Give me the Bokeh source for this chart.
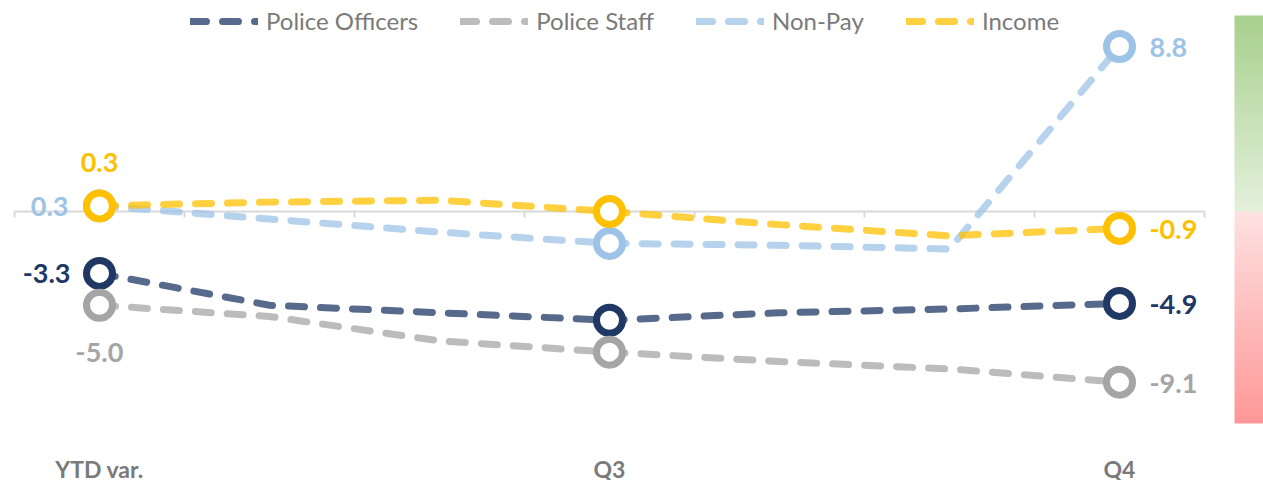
import numpy as np
from bokeh.plotting import figure
from bokeh.models import Range1d, FixedTicker, Legend, LegendItem
from bokeh.core.properties import value
from bokeh.embed import file_html
from bokeh.resources import INLINE

# ---------------- data ----------------
categories = ["YTD var.", "", "", "Q3", "", "", "Q4"]
police_officers = [-3.3, -5.0, -5.4, -5.8, -5.4, -5.2, -4.9]
police_staff = [-5.0, -5.6, -6.9, -7.5, -8.0, -8.4, -9.1]
non_pay = [0.3, -0.4, -1.1, -1.7, -1.8, -2.0, 8.8]
income = [0.3, 0.5, 0.6, 0.0, -0.7, -1.3, -0.9]
series_names = ["Police Officers", "Police Staff", "Non-Pay", "Income"]
marker_idx = [0, 3, 6]
labelled_idx = [0, 6]

# ---------------- styles ----------------
FONT = "Lato"
series_colors = ["#1f3864", "#a5a5a5", "#9dc3e6", "#ffc000"]
label_colors = ["#1f3864", "#a5a5a5", "#9dc3e6", "#ffc000"]
first_label_pos = [(-29, 0, "right"), (0, 47, "center"), (-31, 1, "right"), (0, -43, "center")]
last_label_pos = (30, 1, "left")

FRAME_W, FRAME_H = 1263, 430
PX_X = 170.0
PX_Y = 18.75
LEFT_PAD = 14
ZERO_PX = 211

xs = list(range(len(categories)))
x_start = -0.5 - LEFT_PAD / PX_X
x_end = x_start + FRAME_W / PX_X
y_end = ZERO_PX / PX_Y
y_start = y_end - FRAME_H / PX_Y

p = figure(frame_width=FRAME_W, frame_height=FRAME_H, output_backend="svg",
           toolbar_location=None,
           x_range=Range1d(x_start, x_end), y_range=Range1d(y_start, y_end),
           y_axis_location=None, min_border_left=0, min_border_right=0,
           min_border_top=0, min_border_bottom=0)
p.outline_line_color = None
p.grid.visible = False

# ---------- gradient strip on the right ----------
strip_top = y_end - 15 / PX_Y
strip_bot = y_end - 423 / PX_Y
n = 400
yy = np.linspace(strip_bot, strip_top, n)
green_hi = np.array([169, 209, 142]); green_lo = np.array([228, 240, 220])
red_lo = np.array([254, 226, 226]); red_hi = np.array([255, 152, 152])
img = np.zeros((n, 1, 4), dtype=np.uint8)
for i, yv in enumerate(yy):
    if yv >= 0:
        c = green_lo + (green_hi - green_lo) * (yv / strip_top)
    else:
        c = red_lo + (red_hi - red_lo) * (yv / strip_bot)
    img[i, 0, :3] = c.astype(np.uint8)
    img[i, 0, 3] = 255
strip_x = x_start + 1234 / PX_X
p.image_rgba(image=[img.view(np.uint32).reshape(n, 1)], x=strip_x, y=strip_bot,
             dw=60 / PX_X, dh=strip_top - strip_bot)

# ---------- zero line with category boundary ticks ----------
bounds = [i - 0.5 for i in range(len(categories) + 1)]
tick_len = 6 / PX_Y
p.line([bounds[0], bounds[-1]], [0, 0], line_color="#d9d9d9", line_width=2)
p.segment(x0=bounds, y0=[0] * len(bounds), x1=bounds, y1=[-tick_len] * len(bounds),
          line_color="#d9d9d9", line_width=2)

# ---------- category label axis ----------
ax = p.xaxis[0]
ax.ticker = FixedTicker(ticks=xs)
ax.major_label_overrides = {i: c for i, c in zip(xs, categories)}
ax.axis_line_color = None
ax.major_tick_line_color = None
ax.minor_tick_line_color = None
ax.major_tick_in = 0
ax.major_tick_out = 0
ax.major_label_standoff = 24
ax.major_label_text_font = FONT
ax.major_label_text_font_style = "bold"
ax.major_label_text_font_size = "23px"
ax.major_label_text_color = "#7a7a7a"

# ---------- lines ----------
all_series = [police_officers, police_staff, non_pay, income]
line_renderers = []
for vals, col in zip(all_series, series_colors):
    r = p.line(xs, vals, line_color=col, line_alpha=0.75, line_width=7,
               line_dash="16 16", line_cap="round")
    line_renderers.append(r)

# ---------- markers ----------
for vals, col in zip(all_series, series_colors):
    mx = [xs[i] for i in marker_idx]
    my = [vals[i] for i in marker_idx]
    p.scatter(mx, my, size=26, marker="circle", fill_color="white",
              line_color=col, line_width=7)

# ---------- data labels ----------
for k, (vals, col) in enumerate(zip(all_series, label_colors)):
    for j in labelled_idx:
        xo, yo, al = first_label_pos[k] if j == 0 else last_label_pos
        p.text(x=[xs[j]], y=[vals[j]], text=[f"{vals[j]:.1f}"],
               x_offset=xo, y_offset=yo, text_align=al, text_baseline="middle",
               text_font=value(FONT), text_font_style="bold",
               text_font_size="27px", text_color=col)

# ---------- legend ----------
items = [LegendItem(label=nm, renderers=[r]) for nm, r in zip(series_names, line_renderers)]
legend = Legend(items=items, orientation="horizontal", location=(190, FRAME_H - 35),
                label_text_font=FONT, label_text_font_size="24px",
                label_text_color="#7a7a7a", glyph_width=68, glyph_height=26,
                label_height=26, label_standoff=8, spacing=42, padding=0, margin=0,
                border_line_color=None, background_fill_alpha=0)
p.add_layout(legend)

open("out.html", "w").write(file_html(p, INLINE))
